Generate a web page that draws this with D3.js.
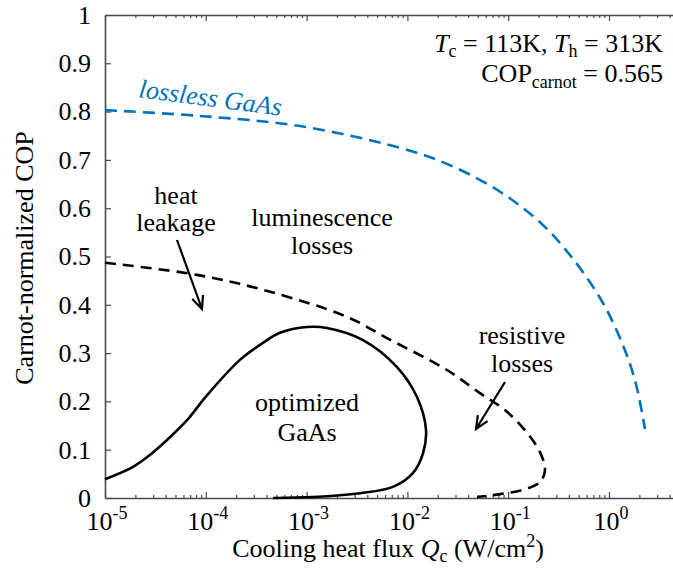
<!DOCTYPE html>
<html><head><meta charset="utf-8">
<script src="https://cdn.jsdelivr.net/npm/d3@7"></script>
<style>
html,body{margin:0;padding:0;background:#fff;}
svg{display:block;}
</style></head>
<body>
<svg id="chart" width="673" height="576"></svg>
<script>
// ---- data ----
const xTickExponents = [-5, -4, -3, -2, -1, 0];
const yTicks = [0, 0.1, 0.2, 0.3, 0.4, 0.5, 0.6, 0.7, 0.8, 0.9, 1];
const yTickLabels = ["0", "0.1", "0.2", "0.3", "0.4", "0.5", "0.6", "0.7", "0.8", "0.9", "1"];

// lossless GaAs (blue dashed)
const losslessQ   = [1.0e-5, 8.75e-5, 8.6e-4, 8.45e-3, 0.0265, 0.083, 0.2066, 0.41, 0.815, 1.286, 1.81, 2.275];
const losslessCOP = [0.803, 0.791, 0.770, 0.725, 0.689, 0.634, 0.571, 0.503, 0.414, 0.331, 0.244, 0.143];

// with luminescence losses (black dashed)
const lumQ   = [1.0e-5, 8.18e-5, 4.34e-4, 2.52e-3, 6.28e-3, 0.0247, 0.0525, 0.0929, 0.154, 0.2066, 0.2317, 0.2066, 0.140, 0.083, 0.049];
const lumCOP = [0.487, 0.462, 0.427, 0.375, 0.331, 0.265, 0.217, 0.182, 0.135, 0.095, 0.058, 0.033, 0.017, 0.008, 0.002];

// optimized GaAs (black solid)
const optQ   = [1.0e-5, 1.88e-5, 2.79e-5, 4.12e-5, 6.51e-5, 1.03e-4, 2.18e-4, 3.69e-4, 5.44e-4, 1.01e-3, 1.59e-3, 3.63e-3, 7.89e-3, 0.01245, 0.0153, 0.0143, 0.01138, 7.19e-3, 3.39e-3, 1.16e-3, 4.65e-4];
const optCOP = [0.039, 0.064, 0.089, 0.120, 0.161, 0.213, 0.286, 0.321, 0.342, 0.354, 0.352, 0.327, 0.271, 0.209, 0.141, 0.093, 0.052, 0.023, 0.010, 0.002, 0.0];

// ---- layout ----
const svg = d3.select("#chart");
const FONT = "'Liberation Serif'";
const L = 105, T = 15, B = 498;
const decade = 100.8;
const x = d3.scaleLog().domain([1e-5, 5]).range([L, L + Math.log10(5 / 1e-5) * decade]);
const y = d3.scaleLinear().domain([0, 1]).range([B, T]);
const axisColor = "#4a4a4a";
const FS = 26;

const majors = xTickExponents.map(e => Math.pow(10, e));
const minors = [];
for (let e = -5; e <= 0; e++) for (let m = 2; m <= 9; m++) { const v = m * Math.pow(10, e); if (v <= 5) minors.push(v); }

function styleAxis(g) {
  g.selectAll("path").attr("stroke", axisColor).attr("stroke-width", 1.6);
  g.selectAll("line").attr("stroke", axisColor).attr("stroke-width", 1.2);
  g.selectAll("text").remove();
}
svg.append("g").attr("transform", `translate(0,${B})`)
  .call(d3.axisBottom(x).tickValues(majors).tickSize(-6).tickSizeOuter(0).tickFormat("")).call(styleAxis);
svg.append("g").attr("transform", `translate(0,${B})`)
  .call(d3.axisBottom(x).tickValues(minors).tickSize(-3).tickSizeOuter(0).tickFormat("")).call(styleAxis)
  .select("path").remove();
svg.append("g").attr("transform", `translate(0,${T})`)
  .call(d3.axisTop(x).tickValues(majors).tickSize(-6).tickSizeOuter(0).tickFormat("")).call(styleAxis);
svg.append("g").attr("transform", `translate(0,${T})`)
  .call(d3.axisTop(x).tickValues(minors).tickSize(-3).tickSizeOuter(0).tickFormat("")).call(styleAxis)
  .select("path").remove();
svg.append("g").attr("transform", `translate(${L},0)`)
  .call(d3.axisLeft(y).tickValues(yTicks).tickSize(-6).tickSizeOuter(0).tickFormat("")).call(styleAxis);

const txt = (sel) => sel.append("text").style("font-family", FONT).attr("fill", "#000");

// y tick labels
const yl = svg.append("g");
yTicks.forEach((d, i) => txt(yl).attr("x", L - 14).attr("y", y(d)).attr("dy", "0.34em")
  .attr("text-anchor", "end").attr("font-size", FS).text(yTickLabels[i]));

// x tick labels: 10^e
const xg = svg.append("g");
xTickExponents.forEach(e => {
  const t = txt(xg).attr("x", x(Math.pow(10, e)) + 2).attr("y", 530)
    .attr("text-anchor", "middle").attr("font-size", FS);
  t.append("tspan").text("10");
  t.append("tspan").attr("font-size", 18).attr("dy", -11).text(e < 0 ? "-" + (-e) : String(e));
});

// axis titles
txt(svg).attr("transform", "translate(33,258) rotate(-90)")
  .attr("text-anchor", "middle").attr("font-size", FS).text("Carnot-normalized COP");
const xt = txt(svg).attr("x", 388).attr("y", 557).attr("text-anchor", "middle").attr("font-size", FS);
xt.append("tspan").text("Cooling heat flux ");
xt.append("tspan").attr("font-style", "italic").text("Q");
xt.append("tspan").attr("font-size", 18).attr("dy", 5).text("c");
xt.append("tspan").attr("dy", -5).text(" (W/cm");
xt.append("tspan").attr("font-size", 18).attr("dy", -10).text("2");
xt.append("tspan").attr("dy", 10).text(")");

// curves
const line = d3.line().x(d => x(d[0])).y(d => y(d[1])).curve(d3.curveCatmullRom.alpha(0.5));
const zip = (a, b) => a.map((v, i) => [v, b[i]]);
svg.append("path").attr("d", line(zip(losslessQ, losslessCOP)))
  .attr("fill", "none").attr("stroke", "#0072BD").attr("stroke-width", 2.6).attr("stroke-dasharray", "12,7");
svg.append("path").attr("d", line(zip(lumQ, lumCOP)))
  .attr("fill", "none").attr("stroke", "#000").attr("stroke-width", 2.6).attr("stroke-dasharray", "11,7");
svg.append("path").attr("d", line(zip(optQ, optCOP)))
  .attr("fill", "none").attr("stroke", "#000").attr("stroke-width", 2.6);

// annotations
txt(svg).attr("transform", "translate(138,97) rotate(7.5)")
  .attr("font-size", FS).attr("font-style", "italic").attr("fill", "#0072BD")
  .text("lossless GaAs");

function label(lines, cx, y0, dy) {
  lines.forEach((t, i) => txt(svg).attr("x", cx).attr("y", y0 + i * dy)
    .attr("text-anchor", "middle").attr("font-size", FS).text(t));
}
label(["heat", "leakage"], 176, 204, 27);
label(["luminescence", "losses"], 322, 226, 28);
label(["resistive", "losses"], 522, 344, 28);
label(["optimized", "GaAs"], 307, 411, 30);

function arrow(x1, y1, x2, y2) {
  const a = Math.atan2(y2 - y1, x2 - x1), h = 14, w = 0.42;
  const p = `M${x1},${y1}L${x2},${y2}` +
    `M${x2 - h * Math.cos(a - w)},${y2 - h * Math.sin(a - w)}L${x2},${y2}L${x2 - h * Math.cos(a + w)},${y2 - h * Math.sin(a + w)}`;
  svg.append("path").attr("d", p).attr("fill", "none").attr("stroke", "#000").attr("stroke-width", 2.2);
}
arrow(177, 240, 202, 309);
arrow(505, 382, 476, 429);

// top-right text
const t1 = txt(svg).attr("x", 663).attr("y", 52).attr("text-anchor", "end").attr("font-size", FS);
t1.append("tspan").attr("font-style", "italic").text("T");
t1.append("tspan").attr("font-size", 18).attr("dy", 5).text("c");
t1.append("tspan").attr("dy", -5).text(" = 113K, ");
t1.append("tspan").attr("font-style", "italic").text("T");
t1.append("tspan").attr("font-size", 18).attr("dy", 5).text("h");
t1.append("tspan").attr("dy", -5).text(" = 313K");
const t2 = txt(svg).attr("x", 663).attr("y", 82).attr("text-anchor", "end").attr("font-size", FS);
t2.append("tspan").text("COP");
t2.append("tspan").attr("font-size", 18).attr("dy", 6).text("carnot");
t2.append("tspan").attr("dy", -6).text(" = 0.565");
</script>
</body></html>
